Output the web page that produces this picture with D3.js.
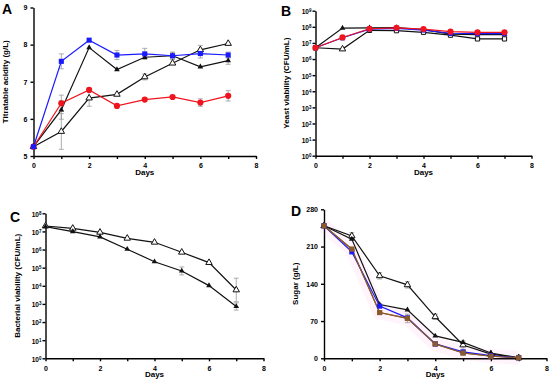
<!DOCTYPE html>
<html>
<head>
<style>
  body { margin: 0; background: #fff; }
  svg text { font-family: "Liberation Sans", Arial, sans-serif; font-weight: bold; }
  .axis path, .axis line { stroke: #000; stroke-width: 1.4px; }
  .axis text { font-size: 7px; fill: #000; }
</style>
</head>
<body>
<svg id="svg" width="550" height="384"></svg>
<script src="https://d3js.org/d3.v7.min.js"></script>
<script>
// days shared by all panels
const days = [0, 1, 2, 3, 4, 5, 6, 7]

// A: titratable acidity (g/L)
const acidBlue = [5.25, 7.55, 8.12, 7.72, 7.75, 7.70, 7.76, 7.72]
const acidBlueErr = [0.05, 0.2, 0.06, 0.12, 0.15, 0.1, 0.12, 0.08]
const acidTri = [5.25, 6.24, 7.92, 7.33, 7.66, 7.70, 7.40, 7.57]
const acidTriErr = [0.05, 0.25, 0.05, 0.05, 0.06, 0.08, 0.05, 0.1]
const acidOpen = [5.25, 5.66, 6.56, 6.66, 7.13, 7.50, 7.86, 8.03]
const acidOpenErr = [0.05, 0.48, 0.22, 0.06, 0.08, 0.06, 0.12, 0.05]
const acidRed = [5.25, 6.42, 6.78, 6.35, 6.52, 6.59, 6.44, 6.62]
const acidRedErr = [0.05, 0.22, 0.04, 0.04, 0.06, 0.04, 0.1, 0.14]

// B: yeast viability, log10 CFU/mL
const yeastTri = [6.7, 7.92, 7.94, 7.95, 7.82, 7.55, 7.52, 7.52]
const yeastOpen = [6.7, 6.62, 7.78, 7.76, 7.66, 7.48, 7.25, 7.25]
const yeastBlue = [6.7, 7.32, 7.86, 7.9, 7.8, 7.6, 7.58, 7.58]
const yeastRed = [6.7, 7.34, 7.88, 7.94, 7.86, 7.7, 7.66, 7.66]

// C: bacterial viability, log10 CFU/mL
const bactOpen = [7.3, 7.17, 6.95, 6.62, 6.4, 5.85, 5.28, 3.77]
const bactOpenErr = [0.05, 0.05, 0.05, 0.05, 0.05, 0.06, 0.08, 0.65]
const bactTri = [7.26, 6.99, 6.7, 6.02, 5.33, 4.82, 4.01, 2.86]
const bactTriErr = [0.05, 0.05, 0.05, 0.06, 0.05, 0.22, 0.05, 0.2]

// D: sugar (g/L)
const sugarOpen = [249, 230, 155, 138, 78, 25, 8, 1]
const sugarOpenErr = [2, 6, 6, 6, 5, 8, 2, 1]
const sugarTri = [249, 224, 101, 91, 42, 30, 10, 1]
const sugarBlue = [249, 200, 98, 76, 27, 12, 5, 1]
const sugarBrown = [249, 205, 86, 75, 27, 10, 4, 1]
const sugarBrownErr = [2, 3, 3, 8, 3, 2, 1, 1]

const svg = d3.select('#svg')

// draw one panel; box = [left, right, top, bottom] in px
function panel(opt) {
  const [x0, x1, y0, y1] = opt.box
  const g = svg.append('g')
  const x = d3.scaleLinear().domain([0, 8]).range([x0, x1])
  const y = d3.scaleLinear().domain(opt.ydomain).range([y1, y0])

  const xAxis = g.append('g').attr('class', 'axis')
    .attr('transform', `translate(0,${y1})`)
    .call(d3.axisBottom(x).tickValues(d3.range(0, 9)).tickSize(3).tickSizeOuter(0)
      .tickFormat(d => d % 2 === 0 ? d : ''))
  xAxis.selectAll('text').attr('dy', '0.9em')

  const yAxis = g.append('g').attr('class', 'axis')
    .attr('transform', `translate(${x0},0)`)
    .call(d3.axisLeft(y).tickValues(opt.yticks).tickSize(3).tickSizeOuter(0)
      .tickFormat(opt.log ? (() => '') : (d => d)))
  if (opt.log) {
    const t = yAxis.selectAll('.tick').append('text')
      .attr('x', -4).attr('dy', '0.45em').attr('text-anchor', 'end')
      .style('font-size', '6.5px')
    t.append('tspan').text('10')
    t.append('tspan').attr('dy', '-0.45em').style('font-size', '4.5px').text(d => d)
  }

  g.append('text').attr('x', x(4)).attr('y', y1 + 19)
    .attr('text-anchor', 'middle').style('font-size', '8px').text('Days')
  g.append('text')
    .attr('transform', `translate(${opt.ylabX},${(y0 + y1) / 2}) rotate(-90)`)
    .attr('text-anchor', 'middle').style('font-size', '8px').text(opt.ylabel)
  g.append('text').attr('x', opt.letter[1]).attr('y', opt.letter[2])
    .style('font-size', '14px').text(opt.letter[0])

  const line = d3.line().x((d, i) => x(days[i])).y(d => y(d))

  opt.series.forEach(s => {
    if (s.band) {
      g.append('path').datum(s.values).attr('d', line).attr('fill', 'none')
        .attr('stroke', '#ff66cc').attr('stroke-opacity', 0.07).attr('stroke-width', 14)
    }
  })

  opt.series.forEach(s => {
    if (s.err) {
      const eb = g.append('g').attr('stroke', '#999').attr('stroke-width', 0.8)
      s.values.forEach((v, i) => {
        const e = s.err[i]
        if (Math.abs(y(v - e) - y(v + e)) < 5) return
        const xi = x(days[i])
        eb.append('line').attr('x1', xi).attr('x2', xi).attr('y1', y(v - e)).attr('y2', y(v + e))
        eb.append('line').attr('x1', xi - 2.5).attr('x2', xi + 2.5).attr('y1', y(v - e)).attr('y2', y(v - e))
        eb.append('line').attr('x1', xi - 2.5).attr('x2', xi + 2.5).attr('y1', y(v + e)).attr('y2', y(v + e))
      })
    }
    g.append('path').datum(s.values).attr('d', line).attr('fill', 'none')
      .attr('stroke', s.color).attr('stroke-width', 1.2)
  })

  opt.series.forEach(s => {
    g.selectAll(null).data(s.values).enter().append('path')
      .attr('d', (d, i) => {
        const sh = s.shapeAt ? s.shapeAt(i) : s.shape
        const shape = sh === 'square' ? d3.symbolSquare : sh === 'circle' ? d3.symbolCircle : d3.symbolTriangle
        const size = sh === 'triangle' ? (s.open ? 18 : 14) : sh === 'square' ? (s.open ? 18 : 26) : 30
        return d3.symbol(shape, size)()
      })
      .attr('transform', (d, i) => `translate(${x(days[i])},${y(d)})`)
      .attr('fill', s.open ? '#fff' : s.color)
      .attr('stroke', s.color).attr('stroke-width', s.open ? 1 : 0)
  })
}

const blue = '#1a1aff'
const red = '#f0141e'
const black = '#111'
const brown = '#8b5a2b'

panel({
  box: [33.5, 256, 7.5, 156], ydomain: [5, 9], yticks: [5, 6, 7, 8, 9],
  ylabel: 'Titratable acidity (g/L)', ylabX: 8, letter: ['A', 2, 14],
  series: [
    { values: acidOpen, err: acidOpenErr, color: black, shape: 'triangle', open: true },
    { values: acidTri, err: acidTriErr, color: black, shape: 'triangle' },
    { values: acidRed, err: acidRedErr, color: red, shape: 'circle' },
    { values: acidBlue, err: acidBlueErr, color: blue, shape: 'square' }
  ]
})

panel({
  box: [315.5, 531.5, 10.7, 155.7], ydomain: [0, 9], yticks: d3.range(0, 10), log: true,
  ylabel: 'Yeast viability (CFU/mL)', ylabX: 289, letter: ['B', 281, 16],
  series: [
    { values: yeastOpen, color: black, shape: 'square', open: true, shapeAt: i => i === 1 ? 'triangle' : 'square' },
    { values: yeastTri, color: black, shape: 'triangle' },
    { values: yeastBlue, color: blue, shape: 'square' },
    { values: yeastRed, color: red, shape: 'circle' }
  ]
})

panel({
  box: [45.5, 263.5, 213.3, 358.3], ydomain: [0, 8], yticks: d3.range(0, 9), log: true,
  ylabel: 'Bacterial viability (CFU/mL)', ylabX: 20, letter: ['C', 10, 222],
  series: [
    { values: bactOpen, err: bactOpenErr, color: black, shape: 'triangle', open: true },
    { values: bactTri, err: bactTriErr, color: black, shape: 'triangle' }
  ]
})

panel({
  box: [324, 546.5, 209.3, 358.3], ydomain: [0, 280], yticks: [0, 70, 140, 210, 280],
  ylabel: 'Sugar (g/L)', ylabX: 298, letter: ['D', 291, 216],
  series: [
    { values: sugarBrown, color: brown, shape: 'square', band: true },
    { values: sugarOpen, err: sugarOpenErr, color: black, shape: 'triangle', open: true },
    { values: sugarTri, color: black, shape: 'triangle' },
    { values: sugarBlue, color: blue, shape: 'square' },
    { values: sugarBrown, err: sugarBrownErr, color: brown, shape: 'square' }
  ]
})
</script>
</body>
</html>
